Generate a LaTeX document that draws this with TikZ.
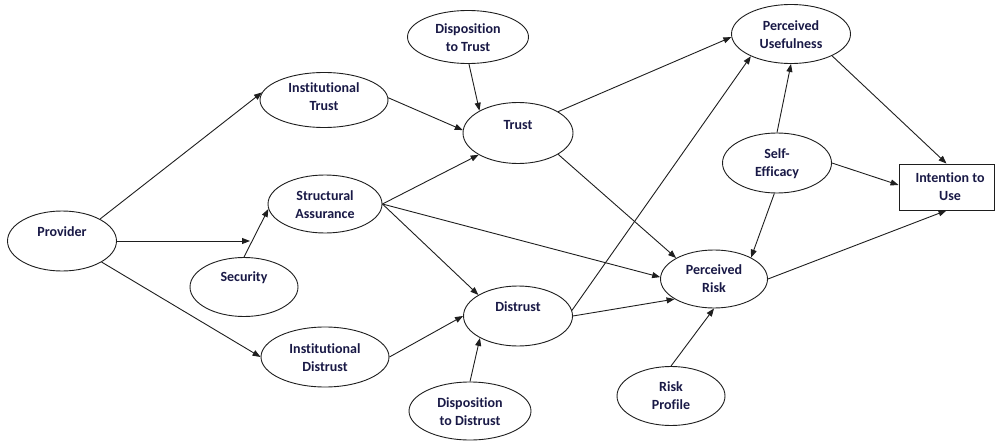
\documentclass[tikz,border=0pt]{standalone}
\usepackage{fontspec}
\setmainfont{Carlito}[Ligatures=NoCommon]
\usetikzlibrary{shapes.geometric,arrows.meta}
\definecolor{txtc}{RGB}{25,25,70}
\definecolor{linec}{RGB}{30,30,30}
\begin{document}
\begin{tikzpicture}[x=1pt,y=-1pt,
  ell/.style={ellipse, draw=linec, line width=0.9pt, fill=white, inner sep=0pt},
  lbl/.style={font=\bfseries\fontsize{14}{18}\selectfont, text=txtc, align=center, inner sep=0pt},
  arr/.style={draw=linec, line width=0.9pt, -{Triangle[length=8pt,width=6pt]}}
]
\useasboundingbox (0,0) rectangle (995,441);

\node[ell, minimum width=109pt, minimum height=60pt] (prov) at (62,241) {};
\node[lbl] (provL) at (62,232) {Provider};
\node[ell, minimum width=128pt, minimum height=55pt] (it) at (324,100) {};
\node[lbl] (itL) at (324,97) {Institutional\\Trust};
\node[ell, minimum width=121pt, minimum height=53pt] (dt) at (468,37) {};
\node[lbl] (dtL) at (468,37.5) {Disposition\\to Trust};
\node[ell, minimum width=110pt, minimum height=61pt] (tr) at (518,133) {};
\node[lbl] (trL) at (518,125) {Trust};
\node[ell, minimum width=114pt, minimum height=58pt] (sa) at (325,204) {};
\node[lbl] (saL) at (325,204.5) {Structural\\Assurance};
\node[ell, minimum width=108pt, minimum height=59pt] (sec) at (244,287) {};
\node[lbl] (secL) at (244,278) {Security};
\node[ell, minimum width=128pt, minimum height=60pt] (id) at (325,357) {};
\node[lbl] (idL) at (325,357.5) {Institutional\\Distrust};
\node[ell, minimum width=109pt, minimum height=60pt] (dis) at (518,316) {};
\node[lbl] (disL) at (518,307) {Distrust};
\node[ell, minimum width=122pt, minimum height=58pt] (dd) at (470,411) {};
\node[lbl] (ddL) at (470,412) {Disposition\\to Distrust};
\node[ell, minimum width=108pt, minimum height=59pt] (rp) at (671,396) {};
\node[lbl] (rpL) at (671,396) {Risk\\Profile};
\node[ell, minimum width=107pt, minimum height=58pt] (pr) at (714,279) {};
\node[lbl] (prL) at (714,278.5) {Perceived\\Risk};
\node[ell, minimum width=119pt, minimum height=59pt] (pu) at (791,34) {};
\node[lbl] (puL) at (791,34.5) {Perceived\\Usefulness};
\node[ell, minimum width=109pt, minimum height=60pt] (se) at (777,163) {};
\node[lbl] (seL) at (777,164) {Self-\\Efficacy};
\node[draw=linec, line width=0.9pt, minimum width=95pt, minimum height=46pt, inner sep=0pt] (int) at (946.5,187) {};
\node[lbl] (intL) at (950,186.5) {Intention to\\Use};

\coordinate (hit) at (250,241);
\draw[arr] (prov.30) -- (it.173);
\draw[arr] (prov.east) -- (hit);
\draw[arr] (prov.-28) -- (id.west);
\draw[arr] (sec.north) -- (sa.185);
\draw[arr] (it.2) -- (tr.177);
\draw[arr] (dt.-88) -- (tr.150);
\draw[arr] (sa.east) -- (tr.209);
\draw[arr] (sa.east) -- (dis.152);
\draw[arr] (sa.east) -- (pr.178);
\draw[arr] (id.east) -- (dis.west);
\draw[arr] (dd.north) -- (dis.210);
\draw[arr] (tr.28) -- (pu.183);
\draw[arr] (tr.-28) -- (pr.151);
\draw[arr] (dis.6) -- (pu.209);
\draw[arr] (dis.east) -- (pr.207);
\draw[arr] (se.north) -- (pu.south);
\draw[arr] (se.east) -- ([yshift=2pt]int.west);
\draw[arr] (se.-95) -- (pr.30);
\draw[arr] (pu.-28) -- (int.north);
\draw[arr] (pr.east) -- (int.south);
\draw[arr] (rp.north) -- (pr.south);
\end{tikzpicture}
\end{document}
